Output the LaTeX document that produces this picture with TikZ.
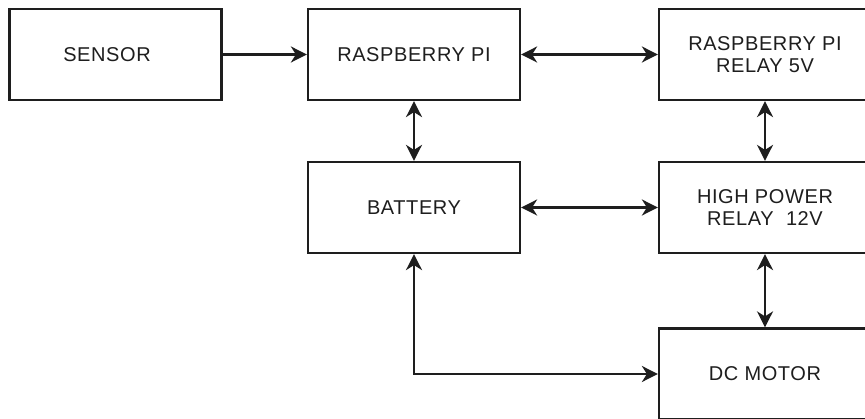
\documentclass[tikz,border=0pt]{standalone}
\usepackage{fontspec}
\setmainfont{Liberation Sans}[LetterSpace=3]
\usepackage{tikz}
\usetikzlibrary{arrows.meta, positioning}
\definecolor{inkgray}{RGB}{30,30,30}

\begin{document}
\begin{tikzpicture}[
        x=1pt, y=-1pt,
        block/.style={rectangle, draw=inkgray, line width=2.2pt, minimum width=212pt, minimum height=91pt, align=center, inner sep=0pt, text=inkgray, font=\fontsize{20}{22.5}\selectfont},
        arrow/.style={-{Stealth[length=16pt, width=16pt, inset=5pt]}, line width=2.2pt, inkgray},
        dblarrow/.style={{Stealth[length=16pt, width=16pt, inset=5pt]}-{Stealth[length=16pt, width=16pt, inset=5pt]}, line width=2.2pt, inkgray}
    ]
        \fill[white] (0,0) rectangle (865,419);
        \useasboundingbox (0,0) rectangle (865,419);

        \node[block] (sensor)  at (115.5, 54.5) {SENSOR\hspace*{17pt}};
        \node[block] (rpi)     at (414, 54.5)   {RASPBERRY PI};
        \node[block] (relayfv) at (765, 54.5)   {RASPBERRY PI\\RELAY 5V};
        \node[block] (battery) at (414, 207.5)  {BATTERY};
        \node[block] (hpr)     at (765, 207.5)  {HIGH POWER\\RELAY\ \ 12V};
        \node[block] (motor)   at (765, 374)    {DC MOTOR};

        \draw[arrow]    (sensor)  -- (rpi);
        \draw[dblarrow] (rpi)     -- (relayfv);
        \draw[dblarrow] (rpi)     -- (battery);
        \draw[dblarrow] (relayfv) -- (hpr);
        \draw[dblarrow] (battery) -- (hpr);
        \draw[dblarrow] (hpr)     -- (motor);
        \draw[dblarrow] (battery.south) |- (motor.west);
    \end{tikzpicture}
\end{document}
